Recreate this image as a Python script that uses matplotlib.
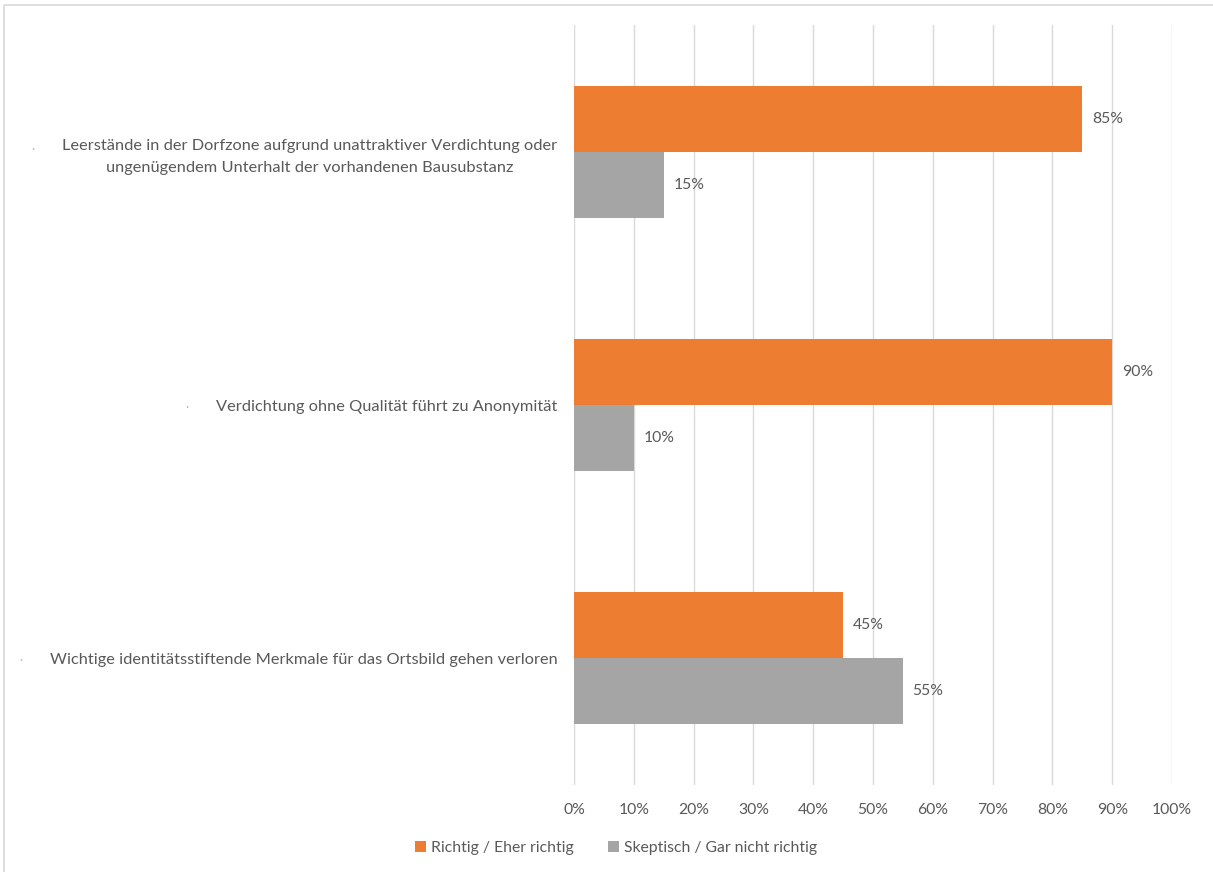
import matplotlib.pyplot as plt
import numpy as np
from matplotlib.patches import Rectangle

plt.rcParams['font.family'] = ['Lato', 'DejaVu Sans']

statements = [
    "Leerstände in der Dorfzone aufgrund unattraktiver Verdichtung oder\nungenügendem Unterhalt der vorhandenen Bausubstanz",
    "Verdichtung ohne Qualität führt zu Anonymität",
    "Wichtige identitätsstiftende Merkmale für das Ortsbild gehen verloren",
]
richtig = [85, 90, 45]
skeptisch = [15, 10, 55]
series_names = ["Richtig / Eher richtig", "Skeptisch / Gar nicht richtig"]

ORANGE = "#ED7D31"
GREY = "#A5A5A5"
TEXT = "#595959"
FS = 11.3

fig = plt.figure(figsize=(12.13, 8.72), dpi=100)
ax = fig.add_axes([0.4732, 0.0998, 0.493, 0.8715])

# thin frame around the whole chart area
fig.patches.append(Rectangle((0.003, -0.01), 1.1, 1.004, transform=fig.transFigure,
                             fill=False, edgecolor="#D9D9D9", linewidth=1.2))

y = np.arange(len(statements))
h = 0.26
b1 = ax.barh(y - h / 2, richtig, height=h, color=ORANGE, label=series_names[0])
b2 = ax.barh(y + h / 2, skeptisch, height=h, color=GREY, label=series_names[1])

for bars, vals in ((b1, richtig), (b2, skeptisch)):
    for bar, v in zip(bars, vals):
        ax.annotate(f"{v}%", (v, bar.get_y() + bar.get_height() / 2),
                    xytext=(7, 0), textcoords="offset points",
                    ha="left", va="center", fontsize=FS, color=TEXT)

ax.set_xlim(0, 100)
ax.set_ylim(len(statements) - 0.5, -0.5)
ax.set_xticks(np.arange(0, 101, 10))
ax.set_xticklabels([f"{t}%" for t in range(0, 101, 10)])
ax.set_yticks(y)
ax.set_yticklabels(statements, multialignment="center", linespacing=1.7)
ax.tick_params(axis="both", length=0, labelsize=FS, labelcolor=TEXT)
ax.tick_params(axis="y", labelsize=11.8, pad=12)
ax.tick_params(axis="x", pad=13)
ax.grid(axis="x", color="#D9D9D9", linewidth=1)
ax.set_axisbelow(True)
for s in ax.spines.values():
    s.set_visible(False)

# faint bullet dots in front of each statement
fig.canvas.draw()
renderer = fig.canvas.get_renderer()
for lbl in ax.get_yticklabels():
    bb = lbl.get_window_extent(renderer)
    xf = (bb.x0 - 29) / fig.bbox.width
    yp = bb.y1 - 10 if "\n" in lbl.get_text() else (bb.y0 + bb.y1) / 2
    fig.text(xf, yp / fig.bbox.height, "·", color="#BFBFBF",
             fontsize=9, ha="center", va="center")

ax.legend(loc="center", bbox_to_anchor=(0.508, 0.028), bbox_transform=fig.transFigure,
          ncol=2, frameon=False, fontsize=FS, labelcolor=TEXT,
          handlelength=0.7, handleheight=0.7, handletextpad=0.3, columnspacing=2.2)

fig.savefig("out.png", dpi=100, facecolor="white")
